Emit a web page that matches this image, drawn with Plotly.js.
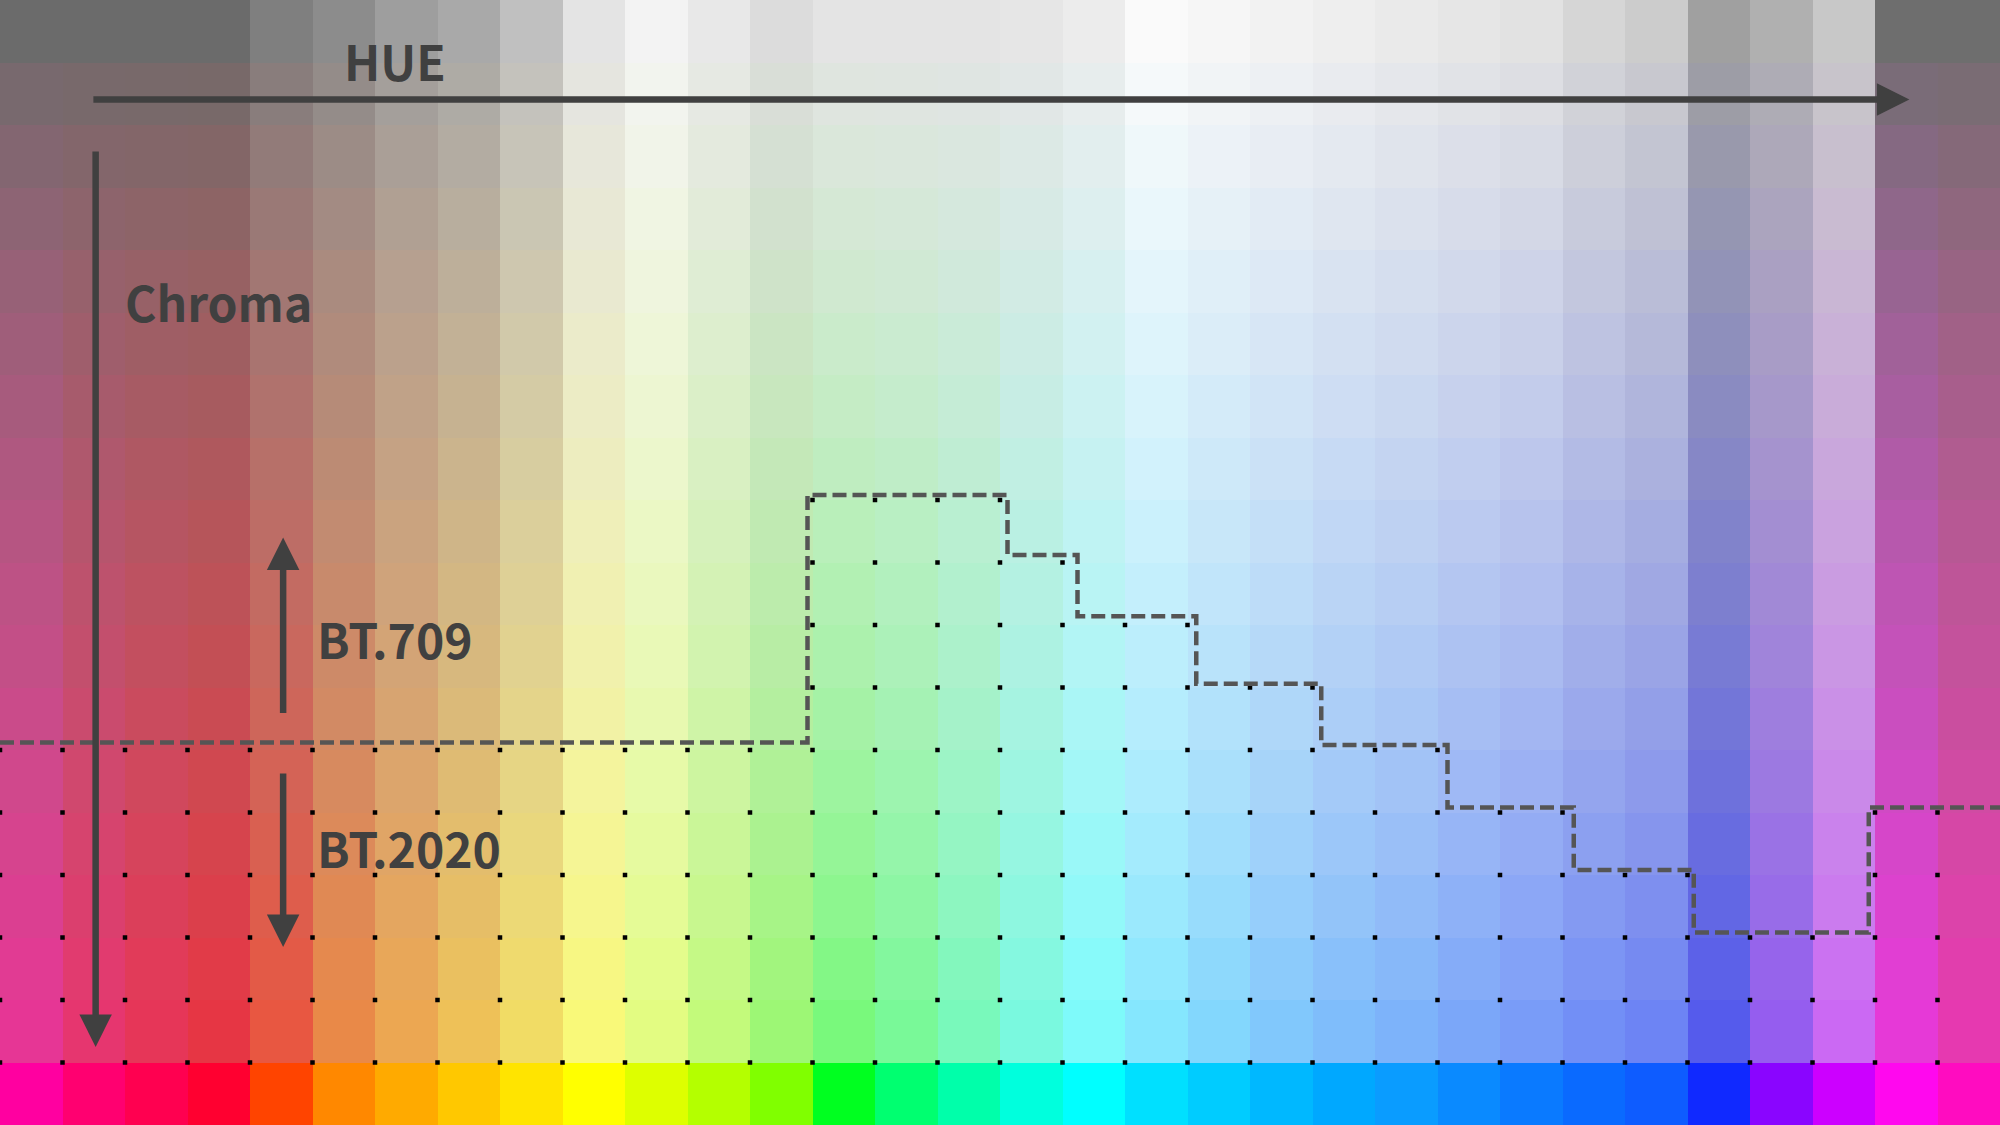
<!DOCTYPE html>
<html>
<head>
<meta charset="utf-8">
<script src="https://cdn.plot.ly/plotly-3.0.1.min.js"></script>
<style>
  html, body { margin: 0; padding: 0; background: #fff; }
  #chart { width: 2000px; height: 1125px; }
</style>
</head>
<body>
<div id="chart"></div>
<script>
// Fully saturated colour of each hue column (bottom row)
const hueColors = [
  "#ff00a0", "#ff0070", "#ff0050", "#ff0030", "#ff4400", "#ff8800", "#ffaa00", "#ffc800",
  "#ffe400", "#ffff00", "#ddff00", "#b4ff00", "#80ff00", "#00ff20", "#00ff70", "#00ffaa",
  "#00ffdd", "#00ffff", "#00e0ff", "#00ccff", "#00b8ff", "#00a8ff", "#0a9cff", "#0a8aff",
  "#0a7aff", "#0a6aff", "#0e5cff", "#1029ff", "#8a05ff", "#cc00ff", "#ff08ee", "#ff0cc0"
];
// Grey level of each hue column at zero chroma (top row)
const greyLevels = [
  107, 107, 107, 107, 127, 140, 158, 169, 192, 228, 243, 232, 220, 228, 228, 228,
  230, 236, 250, 246, 242, 238, 234, 230, 226, 214, 204, 160, 176, 200, 110, 110
];
// Share of the saturated colour in each chroma row (top to bottom)
const chromaSteps = [
  0, 0.047, 0.094, 0.141, 0.188, 0.235, 0.282, 0.329, 0.376,
  0.424, 0.471, 0.518, 0.565, 0.612, 0.659, 0.706, 0.753, 1
];

// Outline of the BT.709 gamut (step line)
const gamutX = [0, 12.92, 16.12, 17.24, 19.14, 21.14, 23.16, 25.18, 27.1, 29.9, 32];
const gamutY = [11.88, 7.92, 8.88, 9.86, 10.94, 11.92, 12.92, 13.92, 14.92, 12.92, 12.92];
// First chroma row marked with a dot in each hue column (dots run down to row 17)
const dotStart = [
  12, 12, 12, 12, 12, 12, 12, 12, 12, 12, 12, 12, 12, 8, 8, 8,
  8, 9, 10, 10, 11, 11, 12, 12, 13, 13, 14, 14, 15, 15, 13, 13
];

const nRows = chromaSteps.length, nCols = hueColors.length;
const toLin = v => { v /= 255; return v <= 0.04045 ? v / 12.92 : Math.pow((v + 0.055) / 1.055, 2.4); };
const toSrgb = v => 255 * (v <= 0.0031308 ? v * 12.92 : 1.055 * Math.pow(v, 1 / 2.4) - 0.055);
function hexRgb(h) {
  return [1, 3, 5].map(i => parseInt(h.slice(i, i + 2), 16));
}

// heatmap: one index per cell, colour from a discrete colorscale
const z = [], scale = [];
const total = nRows * nCols;
for (let r = 0; r < nRows; r++) {
  const row = [];
  for (let c = 0; c < nCols; c++) row.push(r * nCols + c);
  z.push(row);
}
chromaSteps.forEach((t, r) => {
  hueColors.forEach((hc, c) => {
    const g = toLin(greyLevels[c]);
    const rgb = hexRgb(hc).map(v => Math.round(toSrgb(g + (toLin(v) - g) * t)));
    scale.push([(r * nCols + c) / (total - 1), `rgb(${rgb.join(",")})`]);
  });
});

const dx = [], dy = [];
dotStart.forEach((s, c) => {
  for (let r = s; r < nRows; r++) { dx.push(c); dy.push(r); }
});

const ink = "#404040";
const font = { family: "Noto Sans CJK JP, Noto Sans, sans-serif", color: ink, size: 48, weight: 700 };

const traces = [
  {
    type: "heatmap", z: z, x0: 0.5, dx: 1, y0: 0.5, dy: 1,
    colorscale: scale, zmin: 0, zmax: total - 1, showscale: false, hoverinfo: "skip"
  },
  {
    type: "scatter", mode: "markers", x: dx, y: dy,
    marker: { symbol: "square", size: 4.5, color: "#000" }, cliponaxis: false, hoverinfo: "skip"
  },
  {
    type: "scatter", mode: "lines", x: gamutX, y: gamutY,
    line: { shape: "hv", color: "#555", width: 4.5, dash: "14px,6px" }, hoverinfo: "skip"
  }
];

function arrow(x0, y0, x1, y1) {
  return {
    x: x1, y: y1, ax: x0, ay: y0, xref: "x", yref: "y", axref: "x", ayref: "y",
    text: "", showarrow: true, arrowhead: 2, arrowsize: 1, arrowwidth: 6.5, arrowcolor: ink
  };
}
function label(text, x, y, xanchor) {
  return { x: x, y: y, xref: "x", yref: "y", text: text, showarrow: false,
    xanchor: xanchor, yanchor: "middle", font: font };
}

const layout = {
  width: 2000, height: 1125,
  margin: { l: 0, r: 0, t: 0, b: 0 },
  showlegend: false,
  xaxis: { range: [0, 32], visible: false, fixedrange: true },
  yaxis: { range: [18, 0], visible: false, fixedrange: true },
  annotations: [
    arrow(1.47, 1.59, 30.55, 1.59),
    arrow(1.53, 2.4, 1.53, 16.75),
    arrow(4.53, 11.43, 4.53, 8.6),
    arrow(4.53, 12.35, 4.53, 15.15),
    label("HUE", 6.32, 0.96, "center"),
    label("Chroma", 1.97, 4.82, "left"),
    label("BT.709", 5.04, 10.2, "left"),
    label("BT.2020", 5.04, 13.55, "left")
  ]
};

Plotly.newPlot("chart", traces, layout, { staticPlot: true });
</script>
</body>
</html>
